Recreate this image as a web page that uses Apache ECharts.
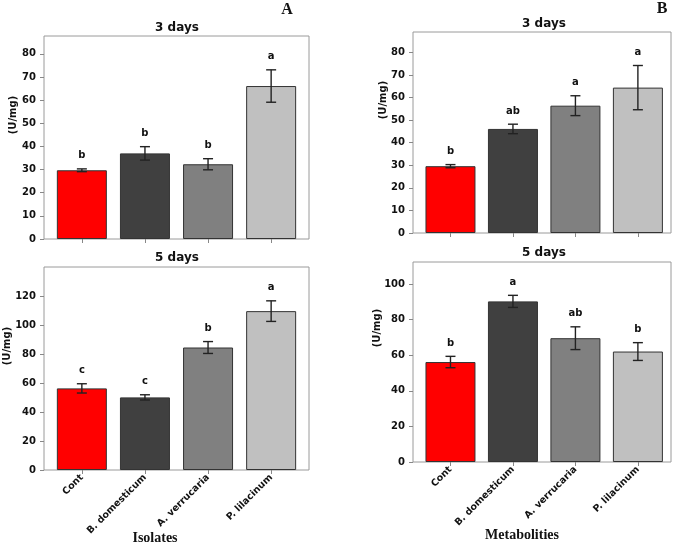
<!DOCTYPE html>
<html>
<head>
    <meta charset="utf-8">
    <script src="https://cdn.jsdelivr.net/npm/echarts@6/dist/echarts.min.js"></script>
    <style>
        html, body { margin: 0; padding: 0; background: #fff; }
        #main { width: 676px; height: 543px; }
    </style>
</head>
<body>
    <div id="main"></div>
    <script>
        var categories = ['Cont', 'B. domesticum', 'A. verrucaria', 'P. lilacinum'];
        var barColors = ['#ff0000', '#404040', '#808080', '#c0c0c0'];

        // isolates (panel A)
        var isolates3 = [29.7, 37.0, 32.3, 66.1];
        var isolates3Err = [0.6, 2.9, 2.4, 7.0];
        var isolates3Letters = ['b', 'b', 'b', 'a'];
        var isolates5 = [56.3, 50.1, 84.5, 109.6];
        var isolates5Err = [3.2, 1.8, 4.1, 7.1];
        var isolates5Letters = ['c', 'c', 'b', 'a'];

        // metabolites (panel B)
        var metab3 = [29.6, 46.1, 56.4, 64.4];
        var metab3Err = [0.7, 2.1, 4.4, 9.8];
        var metab3Letters = ['b', 'ab', 'a', 'a'];
        var metab5 = [56.2, 90.3, 69.6, 62.1];
        var metab5Err = [3.2, 3.4, 6.4, 5.0];
        var metab5Letters = ['b', 'a', 'ab', 'b'];

        var ticks80 = [0, 10, 20, 30, 40, 50, 60, 70, 80];
        var ticks120 = [0, 20, 40, 60, 80, 100, 120];
        var ticks100 = [0, 20, 40, 60, 80, 100];

        var panels = [
            { vals: isolates3, err: isolates3Err, letters: isolates3Letters, ticks: ticks80,
              grid: { left: 44, top: 36, width: 265, height: 203 }, xmax: 3.6, showX: false },
            { vals: isolates5, err: isolates5Err, letters: isolates5Letters, ticks: ticks120,
              grid: { left: 44, top: 267, width: 265, height: 203 }, xmax: 3.6, showX: true },
            { vals: metab3, err: metab3Err, letters: metab3Letters, ticks: ticks80,
              grid: { left: 413, top: 32, width: 258, height: 201 }, xmax: 3.53, showX: false },
            { vals: metab5, err: metab5Err, letters: metab5Letters, ticks: ticks100,
              grid: { left: 413, top: 262, width: 258, height: 200 }, xmax: 3.53, showX: true }
        ];

        var font = 'DejaVu Sans';
        var grids = [], xAxes = [], yAxes = [], series = [];

        panels.forEach(function (p, k) {
            var top = 0;
            p.vals.forEach(function (v, i) { top = Math.max(top, v + p.err[i]); });

            grids.push(Object.assign({ show: true, borderColor: '#9a9a9a', borderWidth: 1 }, p.grid));

            xAxes.push({
                type: 'value', gridIndex: k, min: -0.6, max: p.xmax, position: 'bottom',
                splitLine: { show: false },
                axisLine: { show: false, onZero: false },
                axisTick: { show: true, length: 4, lineStyle: { color: '#888' }, customValues: [0, 1, 2, 3] },
                axisLabel: {
                    show: p.showX, customValues: [0, 1, 2, 3], rotate: 45, margin: 6,
                    fontFamily: font, fontWeight: 'bold', fontSize: 9.5, color: '#111',
                    formatter: function (v) { return categories[Math.round(v)]; }
                }
            });
            yAxes.push({
                type: 'value', gridIndex: k, min: 0, max: top * 1.2, position: 'left',
                splitLine: { show: false },
                axisLine: { show: false, onZero: false },
                axisTick: { show: true, length: 4, lineStyle: { color: '#888' }, customValues: p.ticks },
                axisLabel: {
                    customValues: p.ticks, margin: 8,
                    fontFamily: font, fontWeight: 'bold', fontSize: 10, color: '#111'
                }
            });

            series.push({
                type: 'bar', xAxisIndex: k, yAxisIndex: k, barWidth: 50,
                data: p.vals.map(function (v, i) {
                    return { value: [i, v], itemStyle: { color: barColors[i], borderColor: '#333', borderWidth: 1 } };
                })
            });
            series.push({
                type: 'custom', xAxisIndex: k, yAxisIndex: k, z: 5,
                data: p.vals.map(function (v, i) { return [i, v, p.err[i]]; }),
                renderItem: function (params, api) {
                    var x = api.value(0), m = api.value(1), e = api.value(2);
                    var hi = api.coord([x, m + e]);
                    var lo = api.coord([x, m - e]);
                    var s = { stroke: '#222', lineWidth: 1.4 };
                    return {
                        type: 'group',
                        children: [
                            { type: 'line', shape: { x1: hi[0], y1: hi[1], x2: lo[0], y2: lo[1] }, style: s },
                            { type: 'line', shape: { x1: hi[0] - 5, y1: hi[1], x2: hi[0] + 5, y2: hi[1] }, style: s },
                            { type: 'line', shape: { x1: lo[0] - 5, y1: lo[1], x2: lo[0] + 5, y2: lo[1] }, style: s },
                            { type: 'text', x: hi[0], y: hi[1] - 13,
                              style: { text: p.letters[params.dataIndex], align: 'center', verticalAlign: 'middle',
                                       font: 'bold 10px "DejaVu Sans"', fill: '#111' } }
                        ]
                    };
                }
            });
        });

        function label(text, x, y, f, rot) {
            return { type: 'text', x: x, y: y, rotation: rot || 0,
                     style: { text: text, align: 'center', verticalAlign: 'middle', font: f, fill: '#111' } };
        }
        var titleFont = 'bold 12px "DejaVu Sans"';
        var nameFont = 'bold 10px "DejaVu Sans"';
        var serifFont = 'bold 14px "Liberation Serif"';

        var chart = echarts.init(document.getElementById('main'));
        chart.setOption({
            animation: false,
            grid: grids,
            xAxis: xAxes,
            yAxis: yAxes,
            series: series,
            graphic: [
                label('A', 287, 10, 'bold 16px "Liberation Serif"'),
                label('B', 662, 9, 'bold 16px "Liberation Serif"'),
                label('3 days', 177, 28, titleFont),
                label('5 days', 177, 258, titleFont),
                label('3 days', 544, 24, titleFont),
                label('5 days', 544, 253, titleFont),
                label('(U/mg)', 13, 115, nameFont, Math.PI / 2),
                label('(U/mg)', 7, 346, nameFont, Math.PI / 2),
                label('(U/mg)', 383, 100, nameFont, Math.PI / 2),
                label('(U/mg)', 377, 328, nameFont, Math.PI / 2),
                label('Isolates', 155, 538, serifFont),
                label('Metabolities', 522, 535, serifFont)
            ]
        });
    </script>
</body>
</html>
